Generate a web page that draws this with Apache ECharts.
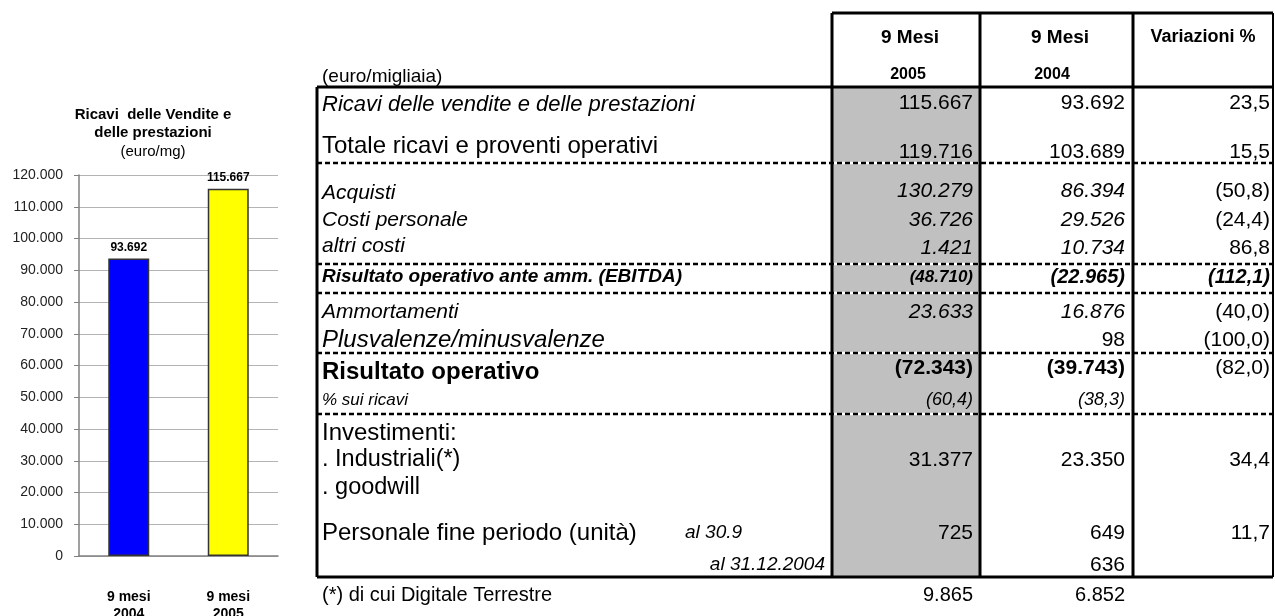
<!DOCTYPE html>
<html lang="it">
<head>
    <meta charset="UTF-8">
    <title>Ricavi delle Vendite e delle prestazioni</title>
    <script src="https://cdn.jsdelivr.net/npm/echarts@6/dist/echarts.min.js"></script>
    <style>
        html, body { margin: 0; padding: 0; background: #fff; }
        #main { width: 1275px; height: 616px; }
    </style>
</head>
<body>
<div id="main"></div>
<script type="text/javascript">
    // grafico a barre
    var categorie = ['9 mesi\n2004', '9 mesi\n2005'];
    var ricavi = [93692, 115667];
    var coloriBarre = ['#0000ff', '#ffff00'];

    // tabella (euro/migliaia)
    var intestazioni = ['9 Mesi', '9 Mesi', 'Variazioni %'];
    var anni = ['2005', '2004'];
    var voci = ['Ricavi delle vendite e delle prestazioni', 'Totale ricavi e proventi operativi', 'Acquisti',
        'Costi personale', 'altri costi', 'Risultato operativo ante amm. (EBITDA)', 'Ammortamenti',
        'Plusvalenze/minusvalenze', 'Risultato operativo', '% sui ricavi', 'Investimenti:', '. Industriali(*)',
        '. goodwill', 'Personale fine periodo (unità)', 'al 31.12.2004'];
    var valori2005 = ['115.667', '119.716', '130.279', '36.726', '1.421', '(48.710)', '23.633', '',
        '(72.343)', '(60,4)', '', '31.377', '', '725', ''];
    var valori2004 = ['93.692', '103.689', '86.394', '29.526', '10.734', '(22.965)', '16.876', '98',
        '(39.743)', '(38,3)', '', '23.350', '', '649', '636'];
    var variazioni = ['23,5', '15,5', '(50,8)', '(24,4)', '86,8', '(112,1)', '(40,0)', '(100,0)',
        '(82,0)', '', '', '34,4', '', '11,7', ''];
    var notaPersonale = 'al 30.9';
    var notaPiede = ['(*) di cui Digitale Terrestre', '9.865', '6.852'];

    var FONT = '"Liberation Sans", Arial, sans-serif';

    function puntiMigliaia(v) {
        return String(v).replace(/\B(?=(\d{3})+(?!\d))/g, '.');
    }

    // y della voce, y dei valori, stile/dimensione voce, stile/dimensione valori
    var layoutRighe = [
        {y: 105, vy: 103, st: 'i', sz: 22, vst: ['', '', ''], vsz: [21, 21, 21]},
        {y: 146, vy: 152, st: '', sz: 24, vst: ['', '', ''], vsz: [21, 21, 21]},
        {y: 193, vy: 191, st: 'i', sz: 21, vst: ['i', 'i', ''], vsz: [21, 21, 21]},
        {y: 220, vy: 220, st: 'i', sz: 21, vst: ['i', 'i', ''], vsz: [21, 21, 21]},
        {y: 246, vy: 248, st: 'i', sz: 21, vst: ['i', 'i', ''], vsz: [21, 21, 21]},
        {y: 277, vy: 277, st: 'bi', sz: 19, vst: ['bi', 'bi', 'bi'], vsz: [17, 20, 20]},
        {y: 312, vy: 312, st: 'i', sz: 21, vst: ['i', 'i', ''], vsz: [21, 21, 21]},
        {y: 340, vy: 340, st: 'i', sz: 24, vst: ['', '', ''], vsz: [21, 21, 21]},
        {y: 372, vy: 368, st: 'b', sz: 24, vst: ['b', 'b', ''], vsz: [21, 21, 21]},
        {y: 400, vy: 400, st: 'i', sz: 17, vst: ['i', 'i', ''], vsz: [18, 18, 18]},
        {y: 433, vy: 433, st: '', sz: 24, vst: ['', '', ''], vsz: [21, 21, 21]},
        {y: 460, vy: 460, st: '', sz: 23.5, vst: ['', '', ''], vsz: [21, 21, 21]},
        {y: 488, vy: 488, st: '', sz: 23.5, vst: ['', '', ''], vsz: [21, 21, 21]},
        {y: 533, vy: 533, st: '', sz: 24, vst: ['', '', ''], vsz: [21, 21, 21]},
        {y: 565, vy: 565, st: 'i', sz: 19, vst: ['', '', ''], vsz: [21, 21, 21], x: 825, align: 'right'}
    ];

    var colX = [832, 980, 1133, 1273];
    var destraValori = [973, 1125, 1270];
    var sinistra = 317, yTesta = 13, yRiga = 87, yFondo = 577;

    function testo(x, y, s, size, st, align) {
        st = st || '';
        return {
            type: 'text', x: x, y: y, z: 10, silent: true,
            style: {
                text: s, fill: '#000', fontFamily: FONT, fontSize: size,
                fontStyle: st.indexOf('i') >= 0 ? 'italic' : 'normal',
                fontWeight: st.indexOf('b') >= 0 ? 'bold' : 'normal',
                align: align || 'left', verticalAlign: 'middle'
            }
        };
    }

    function linea(x1, y1, x2, y2, w, dash, colore, z) {
        return {
            type: 'line', z: z || 5, silent: true,
            shape: {x1: x1, y1: y1, x2: x2, y2: y2},
            style: {stroke: colore || '#000', lineWidth: w, lineDash: dash || null}
        };
    }

    var grafica = [];
    // colonna grigia 2005
    grafica.push({
        type: 'rect', z: 1, silent: true,
        shape: {x: colX[0], y: yRiga, width: colX[1] - colX[0], height: yFondo - yRiga},
        style: {fill: '#c0c0c0'}
    });
    // righe tratteggiate
    [163, 264, 293, 353, 414].forEach(function (y) {
        grafica.push(linea(sinistra, y, colX[3], y, 2.5, null, '#fff', 3));
        grafica.push(linea(sinistra, y, colX[3], y, 2.5, [5, 3], '#000', 4));
    });
    // bordi
    grafica.push(linea(colX[0], yTesta, colX[3], yTesta, 3));
    grafica.push(linea(sinistra, yRiga, colX[3], yRiga, 3));
    grafica.push(linea(sinistra, yFondo, colX[3], yFondo, 3));
    grafica.push(linea(sinistra, yRiga, sinistra, yFondo, 3));
    grafica.push(linea(colX[0], yTesta, colX[0], yFondo, 3));
    grafica.push(linea(colX[1], yTesta, colX[1], yFondo, 3));
    grafica.push(linea(colX[2], yTesta, colX[2], yFondo, 3));
    grafica.push(linea(colX[3], yTesta, colX[3], yFondo, 2));

    // intestazioni
    grafica.push(testo(910, 38, intestazioni[0], 19, 'b', 'center'));
    grafica.push(testo(1060, 38, intestazioni[1], 19, 'b', 'center'));
    grafica.push(testo(1203, 37, intestazioni[2], 18, 'b', 'center'));
    grafica.push(testo(908, 75, anni[0], 16, 'b', 'center'));
    grafica.push(testo(1052, 75, anni[1], 16, 'b', 'center'));
    grafica.push(testo(322, 77, '(euro/migliaia)', 19, ''));

    // righe
    voci.forEach(function (v, i) {
        var L = layoutRighe[i];
        grafica.push(testo(L.x || 322, L.y, v, L.sz, L.st, L.align));
        [valori2005[i], valori2004[i], variazioni[i]].forEach(function (val, c) {
            if (val) grafica.push(testo(destraValori[c], L.vy, val, L.vsz[c], L.vst[c], 'right'));
        });
    });
    grafica.push(testo(685, 533, notaPersonale, 19, 'i'));
    grafica.push(testo(322, 595, notaPiede[0], 20, ''));
    grafica.push(testo(destraValori[0], 595, notaPiede[1], 20, '', 'right'));
    grafica.push(testo(destraValori[1], 595, notaPiede[2], 20, '', 'right'));

    var myChart = echarts.init(document.getElementById('main'));
    var option = {
        animation: false,
        title: {
            text: 'Ricavi  delle Vendite e\ndelle prestazioni',
            subtext: '(euro/mg)',
            left: 148, top: 101, textAlign: 'center', itemGap: 1,
            textStyle: {fontFamily: FONT, fontSize: 15, fontWeight: 'bold', color: '#000', lineHeight: 18},
            subtextStyle: {fontFamily: FONT, fontSize: 15, color: '#000', lineHeight: 18}
        },
        grid: {left: 79, right: 997, top: 175, bottom: 60, outerBoundsMode: 'none'},
        xAxis: {
            type: 'category',
            data: categorie,
            axisLine: {lineStyle: {color: '#808080', width: 1.5}},
            axisTick: {show: false},
            axisLabel: {
                margin: 33, fontFamily: FONT, fontSize: 14, fontWeight: 'bold',
                color: '#000', lineHeight: 17
            }
        },
        yAxis: {
            type: 'value',
            min: 0, max: 120000, interval: 10000,
            axisLine: {show: true, lineStyle: {color: '#808080', width: 1.5}},
            axisTick: {show: true, length: 5, lineStyle: {color: '#808080'}},
            splitLine: {lineStyle: {color: '#b4b4b4', width: 1.2}},
            axisLabel: {
                margin: 16, fontFamily: FONT, fontSize: 14, color: '#222',
                formatter: puntiMigliaia
            }
        },
        series: [{
            type: 'bar',
            barWidth: 41,
            data: ricavi.map(function (v, i) {
                return {value: v, itemStyle: {color: coloriBarre[i]}};
            }),
            itemStyle: {borderColor: '#333', borderWidth: 1.5},
            label: {
                show: true, position: 'top', distance: 5,
                fontFamily: FONT, fontSize: 12, fontWeight: 'bold', color: '#000',
                formatter: function (p) { return puntiMigliaia(p.value); }
            }
        }],
        graphic: grafica
    };
    myChart.setOption(option);
</script>
</body>
</html>
